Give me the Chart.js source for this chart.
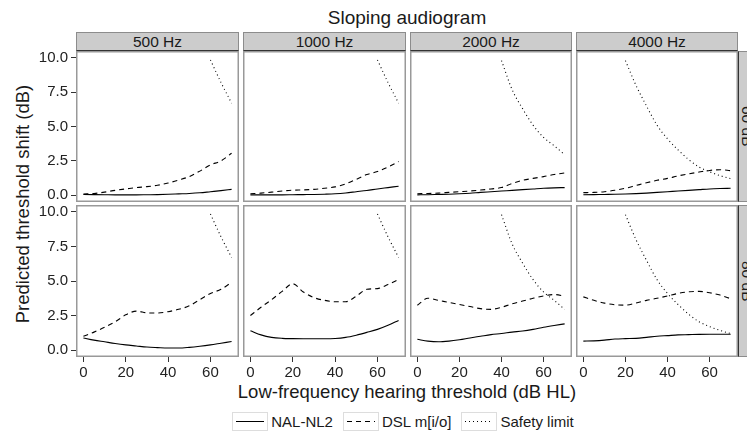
<!DOCTYPE html>
<html>
<head>
<meta charset="utf-8">
<script src="https://cdn.jsdelivr.net/npm/chart.js@4.4.1/dist/chart.umd.min.js"></script>
<style>
body { margin: 0; width: 747px; height: 437px; overflow: hidden; position: relative; background: #fff;
       font-family: "Liberation Sans", Arial, sans-serif; color: #1a1a1a; }
.panel { position: absolute; }
.strip { position: absolute; background: #ccc; border: 1px solid #8c8c8c; border-bottom: 1.5px solid #333;
         box-sizing: border-box; text-align: center; font-size: 15.5px; line-height: 17px; }
.rstrip { position: absolute; background: #ccc; border: 1px solid #8c8c8c; border-left: 1.5px solid #333;
          box-sizing: border-box; font-size: 15.5px; writing-mode: vertical-rl; text-align: center; line-height: 17px; }
#title { position: absolute; left: 76px; width: 662px; top: 7px; text-align: center; font-size: 19px; }
#xtitle { position: absolute; left: 76px; width: 662px; top: 381px; text-align: center; font-size: 18.5px; }
#ytitle { position: absolute; left: 23px; top: 204px; font-size: 18.5px; white-space: nowrap;
          transform: translate(-50%, -50%) rotate(-90deg); }
#legend { position: absolute; top: 412px; left: 0; width: 806px; display: flex; justify-content: center; font-size: 15px; }
.key { display: flex; align-items: center; margin: 0 5px; }
.key svg { border: 1px solid #ddd; margin-right: 3px; }
</style>
</head>
<body>
<div id="title">Sloping audiogram</div>
<div id="ytitle">Predicted threshold shift (dB)</div>
<div id="xtitle">Low-frequency hearing threshold (dB HL)</div>
<div id="legend"></div>

<script>
// facets
const freqs = ['500 Hz', '1000 Hz', '2000 Hz', '4000 Hz'];
const levels = ['60 dB', '80 dB'];

// low-frequency hearing threshold (dB HL)
const hl = [0, 5, 10, 15, 20, 25, 30, 35, 40, 45, 50, 55, 60, 65, 70];
const xTicks = [0, 20, 40, 60];
const yTicks = [0, 2.5, 5, 7.5, 10];

// top row
const nalTop = [
    [0.05, 0.04, 0.03, 0.02, 0.02, 0.02, 0.03, 0.04, 0.06, 0.09, 0.12, 0.17, 0.25, 0.33, 0.42],
    [0.02, 0.02, 0.02, 0.02, 0.03, 0.04, 0.05, 0.07, 0.1, 0.16, 0.25, 0.34, 0.45, 0.55, 0.65],
    [0.02, 0.03, 0.05, 0.07, 0.1, 0.14, 0.2, 0.25, 0.3, 0.35, 0.4, 0.45, 0.5, 0.53, 0.55],
    [0.03, 0.04, 0.05, 0.06, 0.08, 0.11, 0.15, 0.2, 0.25, 0.3, 0.35, 0.4, 0.45, 0.48, 0.5]
];
const dslTop = [
    [0.08, 0.12, 0.22, 0.35, 0.45, 0.55, 0.62, 0.72, 0.88, 1.1, 1.35, 1.75, 2.2, 2.5, 3.05],
    [0.1, 0.15, 0.22, 0.3, 0.36, 0.38, 0.42, 0.5, 0.6, 0.82, 1.15, 1.5, 1.72, 2.05, 2.45],
    [0.1, 0.12, 0.15, 0.2, 0.25, 0.3, 0.37, 0.45, 0.55, 0.85, 1.08, 1.22, 1.35, 1.5, 1.62],
    [0.18, 0.2, 0.25, 0.35, 0.5, 0.7, 0.9, 1.08, 1.22, 1.4, 1.55, 1.68, 1.8, 1.85, 1.78]
];

// bottom row
const nalBottom = [
    [0.88, 0.72, 0.6, 0.48, 0.38, 0.3, 0.22, 0.18, 0.15, 0.15, 0.2, 0.28, 0.38, 0.5, 0.62],
    [1.4, 1.1, 0.92, 0.85, 0.83, 0.82, 0.82, 0.82, 0.84, 0.92, 1.08, 1.28, 1.5, 1.8, 2.15],
    [0.78, 0.65, 0.6, 0.65, 0.75, 0.88, 1.0, 1.12, 1.2, 1.3, 1.38, 1.5, 1.65, 1.78, 1.9],
    [0.65, 0.67, 0.72, 0.8, 0.83, 0.85, 0.92, 1.0, 1.05, 1.1, 1.12, 1.14, 1.15, 1.15, 1.15]
];
const dslBottom = [
    [1.0, 1.3, 1.65, 2.05, 2.55, 2.82, 2.7, 2.68, 2.78, 2.95, 3.2, 3.65, 4.1, 4.4, 4.9],
    [2.5, 3.1, 3.65, 4.25, 4.8, 4.2, 3.8, 3.6, 3.5, 3.5, 3.9, 4.4, 4.45, 4.75, 5.1],
    [3.25, 3.75, 3.6, 3.45, 3.3, 3.15, 3.0, 2.95, 3.1, 3.35, 3.55, 3.75, 3.92, 4.02, 3.9],
    [3.85, 3.6, 3.4, 3.28, 3.25, 3.4, 3.6, 3.75, 3.92, 4.1, 4.22, 4.25, 4.15, 3.98, 3.72]
];

// safety limit, same in both rows (values above 10 dropped)
const safety = [
    [null, null, null, null, null, null, null, null, null, null, null, null, 9.85, 8.2, 6.7],
    [null, null, null, null, null, null, null, null, null, null, null, null, 9.85, 8.2, 6.7],
    [null, null, null, null, null, null, null, null, 9.8, 7.7, 6.3, 5.1, 4.2, 3.6, 2.95],
    [null, null, null, null, 9.8, 8.0, 6.5, 5.1, 4.1, 3.3, 2.6, 2.05, 1.7, 1.42, 1.2]
];

const series = [
    { label: 'NAL-NL2', dash: [] },
    { label: 'DSL m[i/o]', dash: [5, 4] },
    { label: 'Safety limit', dash: [1, 3] }
];

// panel geometry
const colLeft = [76, 243, 410, 576];
const colW = [163, 163, 162, 162];
const rowTop = [51, 205];
const rowH = [151, 152];
const xAxisH = 24;

const toPts = arr => hl.map((x, i) => ({ x: x, y: arr[i] })).filter(p => p.y !== null);

const panelBorder = {
    id: 'panelBorder',
    afterDraw(chart) {
        const a = chart.chartArea;
        const ctx = chart.ctx;
        ctx.save();
        ctx.strokeStyle = '#999';
        ctx.lineWidth = 1.5;
        ctx.strokeRect(a.left + 0.75, a.top + 0.75, a.right - a.left - 1.5, a.bottom - a.top - 1.5);
        ctx.restore();
    }
};

// keep axes from padding the plot area for their end labels
function noPad(s) {
    s.paddingTop = 0;
    s.paddingBottom = 0;
    s.paddingLeft = 0;
    s.paddingRight = 0;
}

function addDiv(cls, left, top, w, h, text) {
    const d = document.createElement('div');
    d.className = cls;
    d.style.left = left + 'px';
    d.style.top = top + 'px';
    d.style.width = w + 'px';
    d.style.height = h + 'px';
    d.textContent = text;
    document.body.appendChild(d);
}

// column strips
freqs.forEach((f, c) => addDiv('strip', colLeft[c], 32, colW[c], 19, f));
// row strips (clipped by the page edge)
levels.forEach((l, r) => addDiv('rstrip', 738, rowTop[r], 19, rowH[r], l));

for (let r = 0; r < 2; r++) {
    const nal = r === 0 ? nalTop : nalBottom;
    const dsl = r === 0 ? dslTop : dslBottom;
    for (let c = 0; c < 4; c++) {
        const showY = c === 0;
        const showX = r === 1;
        const left = showY ? 0 : colLeft[c];
        const width = showY ? colLeft[0] + colW[0] : colW[c];
        const height = rowH[r] + (showX ? xAxisH : 0);

        const canvas = document.createElement('canvas');
        canvas.className = 'panel';
        canvas.width = width;
        canvas.height = height;
        canvas.style.left = left + 'px';
        canvas.style.top = rowTop[r] + 'px';
        document.body.appendChild(canvas);

        const lines = [nal[c], dsl[c], safety[c]];
        new Chart(canvas.getContext('2d'), {
            type: 'line',
            data: {
                datasets: series.map((s, i) => ({
                    label: s.label,
                    data: toPts(lines[i]),
                    borderColor: '#000',
                    borderWidth: 1.1,
                    borderDash: s.dash,
                    pointRadius: 0,
                    fill: false,
                    cubicInterpolationMode: 'monotone'
                }))
            },
            options: {
                responsive: false,
                animation: false,
                layout: { padding: 0 },
                plugins: { legend: { display: false }, tooltip: { enabled: false } },
                scales: {
                    x: {
                        type: 'linear',
                        display: showX,
                        min: -3.5, max: 73.5,
                        afterBuildTicks: s => { s.ticks = xTicks.map(v => ({ value: v })); },
                        afterFit: s => { s.height = showX ? xAxisH : 0; noPad(s); },
                        grid: { drawOnChartArea: false, drawTicks: true, tickLength: 5, color: '#333' },
                        border: { display: false },
                        ticks: { color: '#222', font: { size: 15, family: 'Liberation Sans' }, padding: 2, maxRotation: 0 }
                    },
                    y: {
                        display: showY,
                        min: -0.5, max: 10.5,
                        afterBuildTicks: s => { s.ticks = yTicks.map(v => ({ value: v })); },
                        afterFit: s => { s.width = showY ? colLeft[0] : 0; noPad(s); },
                        grid: { drawOnChartArea: false, drawTicks: true, tickLength: 5, color: '#333' },
                        border: { display: false },
                        ticks: {
                            color: '#222', font: { size: 15, family: 'Liberation Sans' }, padding: 3,
                            callback: v => v.toFixed(1)
                        }
                    }
                }
            },
            plugins: [panelBorder]
        });
    }
}

// legend
const legend = document.getElementById('legend');
series.forEach(s => {
    const key = document.createElement('div');
    key.className = 'key';
    key.innerHTML = `<svg width="34" height="17"><line x1="3" y1="8.5" x2="31" y2="8.5" stroke="#000"
        stroke-width="1" stroke-dasharray="${s.dash.join(',') || 'none'}"/></svg><span>${s.label}</span>`;
    legend.appendChild(key);
});
</script>
</body>
</html>
